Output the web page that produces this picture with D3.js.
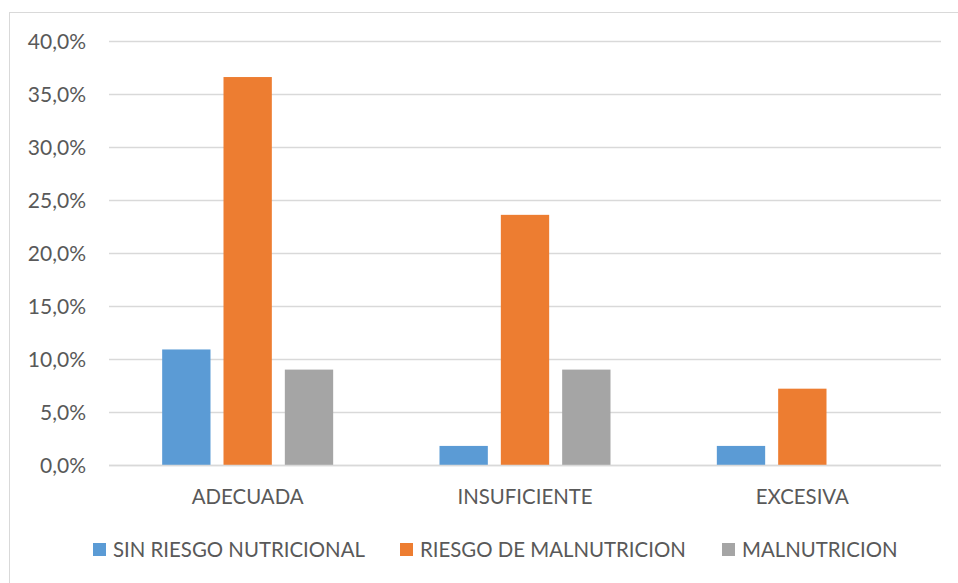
<!DOCTYPE html>
<html>
<head>
<meta charset="utf-8">
<script src="https://cdn.jsdelivr.net/npm/d3@7"></script>
<style>
  html, body { margin: 0; padding: 0; background: #fff; }
  svg { display: block; }
  text { font-family: Lato, "Open Sans", sans-serif; fill: #595959; }
</style>
</head>
<body>
<svg id="chart" width="958" height="583"></svg>
<script>
// Nutritional status by intake group (percent of sample)
const categories = ["ADECUADA", "INSUFICIENTE", "EXCESIVA"];
const seriesNames = ["SIN RIESGO NUTRICIONAL", "RIESGO DE MALNUTRICION", "MALNUTRICION"];
const sinRiesgo = [10.9, 1.8, 1.8];
const riesgoMalnutricion = [36.6, 23.6, 7.2];
const malnutricion = [9.0, 9.0, 0.0];
const yTicks = [0, 5, 10, 15, 20, 25, 30, 35, 40];
const colors = ["#5B9BD5", "#ED7D31", "#A5A5A5"];

const seriesValues = [sinRiesgo, riesgoMalnutricion, malnutricion];

const svg = d3.select("#chart");

// chart frame
svg.append("rect")
  .attr("x", 9.5).attr("y", 12.5)
  .attr("width", 960).attr("height", 580)
  .attr("fill", "none").attr("stroke", "#D9D9D9").attr("stroke-width", 1);

const plot = { left: 109, right: 941, top: 41, bottom: 465 };

const x0 = d3.scaleBand().domain(categories).range([plot.left, plot.right]).padding(0);
const groupPad = (x0.bandwidth() - 171) / 2;
const x1 = d3.scaleBand().domain(d3.range(seriesNames.length))
  .range([groupPad, x0.bandwidth() - groupPad])
  .paddingInner(0.212).paddingOuter(0);
const y = d3.scaleLinear().domain([0, 40]).range([plot.bottom, plot.top]);

// gridlines
svg.append("g").selectAll("line").data(yTicks).join("line")
  .attr("x1", plot.left).attr("x2", plot.right)
  .attr("y1", d => Math.round(y(d)) + 0.5).attr("y2", d => Math.round(y(d)) + 0.5)
  .attr("stroke", "#D9D9D9").attr("stroke-width", 1.3);

// y-axis labels
const fmt = d => d.toFixed(1).replace(".", ",") + "%";
const yAxis = svg.append("g").attr("transform", `translate(${plot.left - 23},0)`)
  .call(d3.axisLeft(y).tickValues(yTicks).tickFormat(fmt).tickSize(0).tickPadding(0));
yAxis.select(".domain").remove();
yAxis.selectAll("text")
  .style("font-family", "Lato, 'Open Sans', sans-serif")
  .style("font-size", "21px").attr("fill", "#595959").attr("dy", "0.35em");

// bars
const groups = svg.append("g").selectAll("g").data(categories).join("g")
  .attr("transform", c => `translate(${x0(c)},0)`);
groups.selectAll("rect")
  .data((c, i) => seriesValues.map((vals, s) => ({ s, v: vals[i] })))
  .join("rect")
  .attr("x", d => x1(d.s))
  .attr("width", x1.bandwidth())
  .attr("y", d => y(d.v))
  .attr("height", d => y(0) - y(d.v))
  .attr("fill", d => colors[d.s]);

// baseline
svg.append("line")
  .attr("x1", plot.left).attr("x2", plot.right)
  .attr("y1", plot.bottom + 0.5).attr("y2", plot.bottom + 0.5)
  .attr("stroke", "#D9D9D9").attr("stroke-width", 1.5);

// category labels
const xAxis = svg.append("g").attr("transform", `translate(0,${plot.bottom})`)
  .call(d3.axisBottom(x0).tickSize(0).tickPadding(0));
xAxis.select(".domain").remove();
xAxis.selectAll("text")
  .style("font-family", "Lato, 'Open Sans', sans-serif")
  .style("font-size", "20.4px").attr("fill", "#595959")
  .attr("y", 39).attr("dy", 0);

// legend
const legendX = [93, 400, 722];
const legend = svg.append("g").selectAll("g").data(seriesNames).join("g")
  .attr("transform", (d, i) => `translate(${legendX[i]},543)`);
legend.append("rect").attr("width", 13).attr("height", 13)
  .attr("fill", (d, i) => colors[i]);
legend.append("text").attr("x", 20).attr("y", 14)
  .style("font-size", "20.4px").text(d => d);
</script>
</body>
</html>
